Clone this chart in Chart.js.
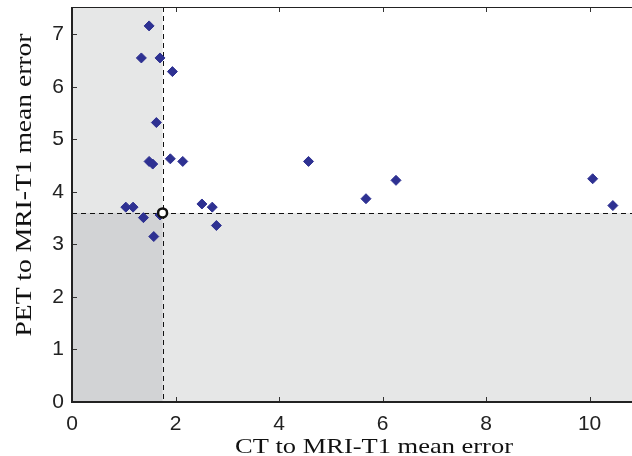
<!DOCTYPE html>
<html>
<head>
<meta charset="utf-8">
<script src="https://cdn.jsdelivr.net/npm/chart.js@4/dist/chart.umd.min.js"></script>
<style>
  body { margin: 0; background: #fff; }
  #wrap { width: 632px; height: 456px; position: relative; }
</style>
</head>
<body>
<div id="wrap"><canvas id="errChart"></canvas></div>
<script>
// CT->MRI-T1 and PET->MRI-T1 mean errors, one pair per case
const ctError  = [1.49, 1.34, 1.70, 1.94, 1.63, 1.49, 1.56, 1.90, 2.14, 1.04, 1.18, 1.38, 1.58, 2.51, 2.71, 2.79, 1.70, 4.57, 5.68, 6.26, 10.06, 10.45];
const petError = [7.16, 6.55, 6.55, 6.29, 5.32, 4.58, 4.53, 4.63, 4.58, 3.71, 3.71, 3.51, 3.15, 3.77, 3.71, 3.36, 3.56, 4.58, 3.87, 4.22, 4.25, 3.74];

// mean error thresholds (the dashed lines / open circle)
const ctMean = 1.75;
const petMean = 3.60;

// axis ranges, tick labels and titles
const xRange = [0, 10.82];
const yRange = [0, 7.52];
const xTicks = [0, 2, 4, 6, 8, 10];
const yTicks = [0, 1, 2, 3, 4, 5, 6, 7];
const xTitle = 'CT to MRI-T1 mean error';
const yTitle = 'PET to MRI-T1 mean error';

const points = ctError.map((x, i) => ({ x: x, y: petError[i] }));

// shaded quadrants, dashed threshold lines, frame and inward ticks
const framePlugin = {
  id: 'frame',
  beforeDatasetsDraw(chart) {
    const { ctx, chartArea: a, scales: { x, y } } = chart;
    const mx = x.getPixelForValue(ctMean);
    const my = y.getPixelForValue(petMean);
    ctx.save();
    ctx.fillStyle = '#e6e7e7';
    ctx.fillRect(a.left, a.top, mx - a.left, a.bottom - a.top);
    ctx.fillRect(mx, my, a.right - mx, a.bottom - my);
    ctx.fillStyle = '#d2d3d5';
    ctx.fillRect(a.left, my, mx - a.left, a.bottom - my);

    ctx.strokeStyle = '#111';
    ctx.lineWidth = 1;
    ctx.setLineDash([5, 4]);
    ctx.beginPath();
    ctx.moveTo(Math.round(mx) + 0.5, a.top);
    ctx.lineTo(Math.round(mx) + 0.5, a.bottom);
    ctx.moveTo(a.left, Math.round(my) + 0.5);
    ctx.lineTo(a.right, Math.round(my) + 0.5);
    ctx.stroke();
    ctx.setLineDash([]);

    // ticks point inwards
    ctx.strokeStyle = '#333';
    ctx.beginPath();
    xTicks.forEach(v => {
      const px = Math.round(x.getPixelForValue(v)) + 0.5;
      ctx.moveTo(px, a.bottom); ctx.lineTo(px, a.bottom - 5);
      ctx.moveTo(px, a.top); ctx.lineTo(px, a.top + 5);
    });
    yTicks.forEach(v => {
      const py = Math.round(y.getPixelForValue(v)) + 0.5;
      ctx.moveTo(a.left, py); ctx.lineTo(a.left + 5, py);
    });
    ctx.stroke();

    // frame
    ctx.strokeStyle = '#222';
    ctx.lineWidth = 1;
    ctx.beginPath();
    ctx.moveTo(a.left, a.top + 0.5);
    ctx.lineTo(a.right, a.top + 0.5);
    ctx.stroke();
    ctx.lineWidth = 2;
    ctx.beginPath();
    ctx.moveTo(a.left, a.top);
    ctx.lineTo(a.left, a.bottom);
    ctx.lineTo(a.right, a.bottom);
    ctx.stroke();
    ctx.restore();
  },
  // axis titles: serif type that is stretched along the text direction
  afterDraw(chart) {
    const { ctx } = chart;
    ctx.save();
    ctx.fillStyle = '#111';
    ctx.textAlign = 'center';
    ctx.textBaseline = 'alphabetic';

    ctx.font = '22px "Liberation Serif"';
    let w = ctx.measureText(xTitle).width;
    ctx.save();
    ctx.translate(374, 453);
    ctx.scale(278 / w, 1);
    ctx.fillText(xTitle, 0, 0);
    ctx.restore();

    ctx.font = '24px "Liberation Serif"';
    w = ctx.measureText(yTitle).width;
    ctx.save();
    ctx.translate(31, 185);
    ctx.rotate(-Math.PI / 2);
    ctx.scale(303 / w, 1);
    ctx.fillText(yTitle, 0, 0);
    ctx.restore();
    ctx.restore();
  }
};

const noPad = s => { s.paddingTop = 0; s.paddingBottom = 0; s.paddingLeft = 0; s.paddingRight = 0; };

const ctx = document.getElementById('errChart').getContext('2d');
const errChart = new Chart(ctx, {
  type: 'scatter',
  data: {
    datasets: [{
      label: 'cases',
      data: points,
      pointStyle: 'rectRot',
      pointRadius: 5,
      pointBackgroundColor: '#2e3192',
      pointBorderColor: '#2e3192',
      pointBorderWidth: 1,
      order: 2
    }, {
      label: 'mean',
      data: [{ x: ctMean, y: petMean }],
      pointStyle: 'circle',
      pointRadius: 4.5,
      pointBackgroundColor: '#fff',
      pointBorderColor: '#111',
      pointBorderWidth: 2.5,
      order: 1
    }]
  },
  options: {
    responsive: true,
    maintainAspectRatio: false,
    animation: false,
    layout: { autoPadding: false, padding: { top: 7, right: 0, left: 0, bottom: 0 } },
    plugins: {
      legend: { display: false },
      tooltip: { enabled: false }
    },
    scales: {
      x: {
        type: 'linear',
        min: xRange[0],
        max: xRange[1],
        afterFit: s => { s.height = 54; noPad(s); },
        afterBuildTicks: s => { s.ticks = xTicks.map(v => ({ value: v })); },
        grid: { display: false, drawTicks: false },
        border: { display: false },
        ticks: {
          padding: 10,
          color: '#222',
          font: { family: 'Liberation Sans', size: 21 }
        }
      },
      y: {
        type: 'linear',
        min: yRange[0],
        max: yRange[1],
        afterFit: s => { s.width = 72; noPad(s); },
        afterBuildTicks: s => { s.ticks = yTicks.map(v => ({ value: v })); },
        grid: { display: false, drawTicks: false },
        border: { display: false },
        ticks: {
          padding: 8,
          color: '#222',
          font: { family: 'Liberation Sans', size: 21 }
        }
      }
    }
  },
  plugins: [framePlugin]
});
</script>
</body>
</html>
